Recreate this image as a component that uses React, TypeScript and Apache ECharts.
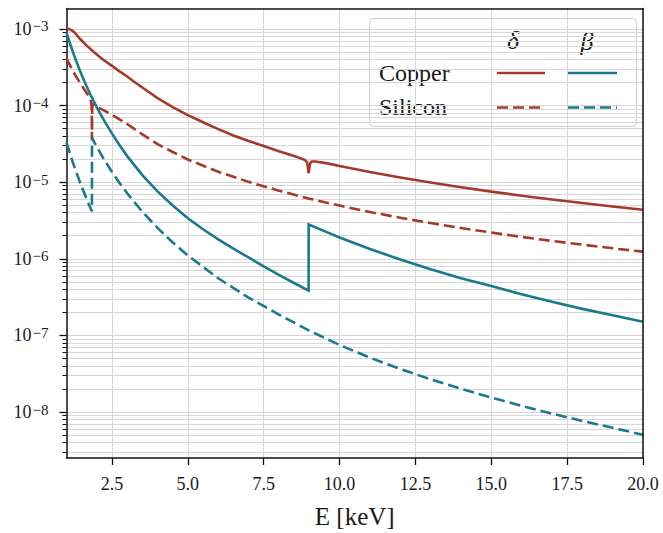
import React, { useEffect, useRef } from "react";
import * as echarts from "echarts";

// Refractive index decrement (delta) and absorption index (beta) of copper and silicon.
const cuDeltaE = [1.0, 1.05, 1.1, 1.2, 1.3, 1.45, 1.65, 1.9, 2.2, 2.5, 2.75, 3.0, 3.25, 3.5, 4.0, 4.5, 5.0, 5.5, 6.0, 6.5, 7.0, 7.5, 8.0, 8.5, 8.85, 8.93, 8.965, 8.98, 8.995, 9.03, 9.08, 9.2, 9.6, 10, 11, 12, 13, 14, 15, 16, 17, 18, 19, 20];
const cuDelta = [1.0e-3, 1.005e-3, 9.95e-4, 9.45e-4, 8.7e-4, 7.4e-4, 6.15e-4, 5.0e-4, 4.0e-4, 3.3e-4, 2.8e-4, 2.4e-4, 2.02e-4, 1.72e-4, 1.25e-4, 9.55e-5, 7.5e-5, 6.06e-5, 4.93e-5, 4.08e-5, 3.46e-5, 2.96e-5, 2.54e-5, 2.2e-5, 1.96e-5, 1.82e-5, 1.48e-5, 1.31e-5, 1.45e-5, 1.75e-5, 1.86e-5, 1.86e-5, 1.76e-5, 1.63e-5, 1.36e-5, 1.152e-5, 9.9e-6, 8.6e-6, 7.54e-6, 6.67e-6, 5.95e-6, 5.34e-6, 4.82e-6, 4.37e-6];

const cuBetaE = [1.0, 1.1, 1.2, 1.3, 1.45, 1.6, 1.8, 2.0, 2.25, 2.5, 2.75, 3.0, 3.5, 4.0, 4.5, 5.0, 5.5, 6.0, 6.5, 7.0, 7.5, 8.0, 8.5, 8.979, 8.981, 9.5, 10, 11, 12, 13, 14, 15, 16, 17, 18, 19, 20];
const cuBeta = [9.0e-4, 6.76e-4, 5.16e-4, 3.99e-4, 2.81e-4, 2.03e-4, 1.363e-4, 9.47e-5, 6.27e-5, 4.31e-5, 3.03e-5, 2.19e-5, 1.237e-5, 7.6e-6, 4.97e-6, 3.38e-6, 2.43e-6, 1.79e-6, 1.355e-6, 1.04e-6, 7.96e-7, 6.15e-7, 4.83e-7, 3.85e-7, 2.8e-6, 2.3e-6, 1.9e-6, 1.34e-6, 9.8e-7, 7.3e-7, 5.56e-7, 4.4e-7, 3.45e-7, 2.75e-7, 2.22e-7, 1.83e-7, 1.51e-7];

const siDeltaE = [1.0, 1.1, 1.2, 1.3, 1.45, 1.6, 1.7, 1.78, 1.82, 1.832, 1.838, 1.843, 1.85, 1.87, 2.0, 2.25, 2.5, 3.0, 3.5, 4.0, 4.5, 5.0, 6.0, 7.0, 8.0, 9.0, 10, 11, 12, 13, 14, 15, 16, 17, 18, 19, 20];
const siDelta = [4.15e-4, 3.45e-4, 2.88e-4, 2.45e-4, 1.97e-4, 1.6e-4, 1.39e-4, 1.22e-4, 1.08e-4, 8.5e-5, 3.7e-5, 6.5e-5, 1.0e-4, 1.03e-4, 9.6e-5, 8.6e-5, 7.6e-5, 5.75e-5, 4.2e-5, 3.15e-5, 2.48e-5, 1.98e-5, 1.37e-5, 1.01e-5, 7.75e-6, 6.1e-6, 4.95e-6, 4.08e-6, 3.43e-6, 2.93e-6, 2.52e-6, 2.2e-6, 1.93e-6, 1.71e-6, 1.53e-6, 1.37e-6, 1.24e-6];

const siBetaE = [1.0, 1.1, 1.2, 1.3, 1.45, 1.6, 1.7, 1.8, 1.838, 1.84, 1.9, 2.0, 2.25, 2.5, 2.75, 3.0, 3.5, 4.0, 4.5, 5.0, 6.0, 7.0, 8.0, 9.0, 10, 11, 12, 13, 14, 15, 16, 17, 18, 19, 20];
const siBeta = [3.3e-5, 2.46e-5, 1.86e-5, 1.43e-5, 9.86e-6, 6.95e-6, 5.57e-6, 4.5e-6, 4.17e-6, 3.8e-5, 3.42e-5, 2.89e-5, 1.948e-5, 1.361e-5, 9.75e-6, 7.16e-6, 4.11e-6, 2.53e-6, 1.634e-6, 1.104e-6, 5.57e-7, 3.11e-7, 1.873e-7, 1.156e-7, 7.5e-8, 5.12e-8, 3.64e-8, 2.676e-8, 2.012e-8, 1.543e-8, 1.204e-8, 9.53e-9, 7.65e-9, 6.21e-9, 5.05e-9];

// Axis ticks
const xTicks = [2.5, 5.0, 7.5, 10.0, 12.5, 15.0, 17.5, 20.0];
const yMajorExponents = [-8, -7, -6, -5, -4, -3];
const yMinorMultipliers = [2, 3, 4, 5, 6, 7, 8, 9];
const yMinorExponents = [-9, -8, -7, -6, -5, -4, -3];

const X_MIN = 1;
const X_MAX = 20;
const Y_MIN = Math.pow(10, -8.6005);
const Y_MAX = Math.pow(10, -2.7324);

const RED = "#a4392c";
const TEAL = "#197a8c";
const FONT = "'Liberation Serif', 'DejaVu Serif', serif";
const TEXT = "#1a1a1a";
const GRID = "#d7d7d7";
const DASH = [11, 5];

const zip = (xs: number[], ys: number[]) => xs.map((x, i) => [x, ys[i]]);

const yMajor = yMajorExponents.map((e) => Math.pow(10, e));
const yMinor: number[] = [];
yMinorExponents.forEach((e) =>
  yMinorMultipliers.forEach((k) => {
    const v = k * Math.pow(10, e);
    if (v > Y_MIN && v < Y_MAX) yMinor.push(v);
  })
);

const supFormatter = (v: number) => {
  const e = Math.round(Math.log10(v));
  return `{b|10}{e|${e < 0 ? "\u2212" + Math.abs(e) : e}}`;
};

function buildOption(): any {
  const line = (name: string, data: number[][], color: string, dashed: boolean) => ({
    name,
    type: "line",
    xAxisIndex: 0,
    yAxisIndex: 0,
    data,
    showSymbol: false,
    symbol: "none",
    z: 3,
    clip: true,
    lineStyle: { color, width: 2.6, type: dashed ? DASH : "solid", cap: "butt", join: "miter" },
    emphasis: { disabled: true },
  });

  const legendText = (text: string, x: number, y: number, size: number, italic: boolean, align: string) => ({
    type: "text",
    x,
    y,
    style: {
      text,
      fontFamily: FONT,
      fontStyle: italic ? "italic" : "normal",
      fontSize: size,
      fill: TEXT,
      align,
      verticalAlign: "middle",
    },
  });

  return {
    animation: false,
    backgroundColor: "#ffffff",
    grid: {
      left: 66.5,
      right: 20,
      top: 8.5,
      bottom: 75,
      containLabel: false,
      outerBoundsMode: "none",
    },
    xAxis: [
      {
        type: "value",
        min: X_MIN,
        max: X_MAX,
        position: "bottom",
        axisLine: { show: true, lineStyle: { color: "#111", width: 1.5 } },
        axisTick: { show: true, customValues: xTicks, length: 7, lineStyle: { color: "#111", width: 1.3 } },
        axisLabel: {
          customValues: xTicks,
          formatter: (v: number) => v.toFixed(1),
          fontFamily: FONT,
          fontSize: 18,
          color: TEXT,
          margin: 17,
        },
        splitLine: { show: true, lineStyle: { color: GRID, width: 1 } },
        name: "E [keV]",
        nameLocation: "middle",
        nameGap: 46,
        nameTextStyle: { fontFamily: FONT, fontSize: 25, color: TEXT },
      },
      {
        type: "value",
        min: X_MIN,
        max: X_MAX,
        position: "top",
        z: 5,
        axisLine: { show: true, lineStyle: { color: "#111", width: 1.5 } },
        axisTick: { show: false },
        axisLabel: { show: false },
        splitLine: { show: false },
      },
    ],
    yAxis: [
      {
        type: "log",
        logBase: 10,
        min: Y_MIN,
        max: Y_MAX,
        position: "left",
        axisLine: { show: true, lineStyle: { color: "#111", width: 1.5 } },
        axisTick: { show: true, customValues: yMajor, length: 7, lineStyle: { color: "#111", width: 1.3 } },
        axisLabel: {
          customValues: yMajor,
          formatter: supFormatter,
          margin: 18,
          align: "right",
          rich: {
            b: { fontFamily: FONT, fontSize: 18, color: TEXT, lineHeight: 20, verticalAlign: "middle" },
            e: { fontFamily: FONT, fontSize: 15, color: TEXT, lineHeight: 13, verticalAlign: "top", padding: [0, 0, 0, 1] },
          },
        },
        splitLine: { show: true, lineStyle: { color: GRID, width: 1 } },
      },
      {
        type: "log",
        logBase: 10,
        min: Y_MIN,
        max: Y_MAX,
        position: "left",
        axisLine: { show: false },
        axisTick: { show: true, customValues: yMinor, length: 4, lineStyle: { color: "#111", width: 1 } },
        axisLabel: { show: false },
        splitLine: { show: true, lineStyle: { color: GRID, width: 1 } },
      },
      {
        type: "value",
        min: 0,
        max: 1,
        position: "right",
        z: 5,
        axisLine: { show: true, lineStyle: { color: "#111", width: 1.5 } },
        axisTick: { show: false },
        axisLabel: { show: false },
        splitLine: { show: false },
      },
    ],
    series: [
      line("Copper δ", zip(cuDeltaE, cuDelta), RED, false),
      line("Copper β", zip(cuBetaE, cuBeta), TEAL, false),
      line("Silicon δ", zip(siDeltaE, siDelta), RED, true),
      line("Silicon β", zip(siBetaE, siBeta), TEAL, true),
    ],
    graphic: [
      {
        type: "group",
        z: 100,
        children: [
          {
            type: "rect",
            shape: { x: 369.5, y: 18.5, width: 267, height: 108, r: 4 },
            style: { fill: "rgba(255,255,255,0.92)", stroke: "#cccccc", lineWidth: 1 },
          },
          legendText("δ", 513, 40, 26, true, "center"),
          legendText("β", 587, 41, 26, true, "center"),
          legendText("Copper", 379, 73, 24, false, "left"),
          legendText("Silicon", 379, 107, 24, false, "left"),
          { type: "line", shape: { x1: 497, y1: 73, x2: 545, y2: 73 }, style: { stroke: RED, lineWidth: 2.6 } },
          { type: "line", shape: { x1: 568, y1: 73, x2: 617, y2: 73 }, style: { stroke: TEAL, lineWidth: 2.6 } },
          { type: "line", shape: { x1: 497, y1: 107.5, x2: 545, y2: 107.5 }, style: { stroke: RED, lineWidth: 2.6, lineDash: DASH } },
          { type: "line", shape: { x1: 568, y1: 107.5, x2: 617, y2: 107.5 }, style: { stroke: TEAL, lineWidth: 2.6, lineDash: DASH } },
        ],
      },
    ],
  };
}

export default function App() {
  const ref = useRef<HTMLDivElement>(null);
  useEffect(() => {
    if (!ref.current) return;
    const chart = echarts.init(ref.current, null, { renderer: "svg" });
    chart.setOption(buildOption());
    return () => chart.dispose();
  }, []);
  return (
    <div
      ref={ref}
      style={{ position: "fixed", left: 0, top: 0, width: 663, height: 533, background: "#ffffff" }}
    />
  );
}
